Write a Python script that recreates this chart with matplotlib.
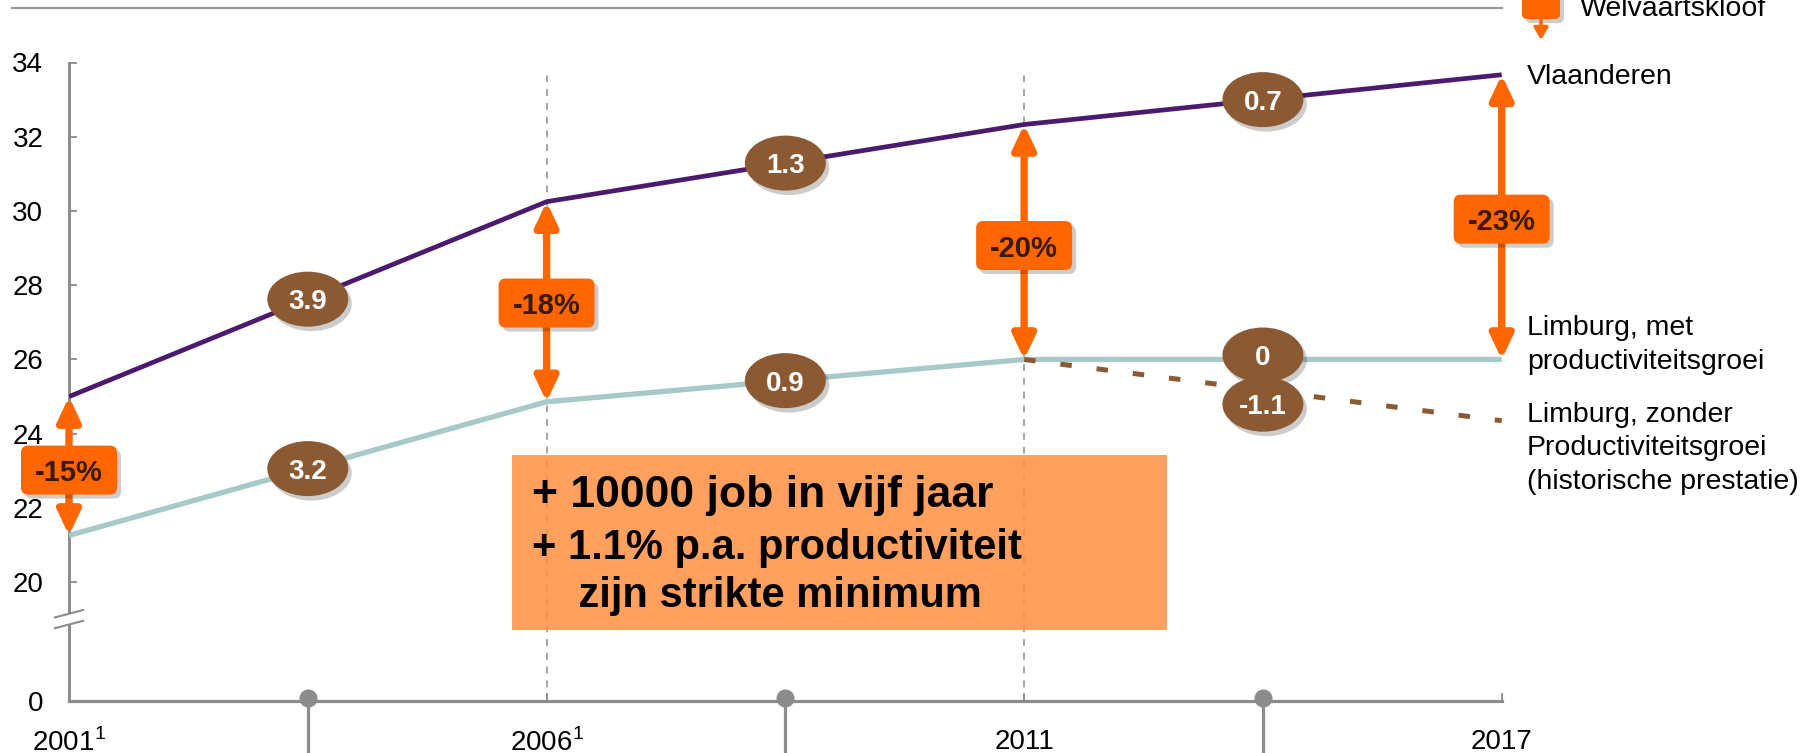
import numpy as np
import matplotlib
matplotlib.use("Agg")
import matplotlib.pyplot as plt
from matplotlib import patches, transforms
from matplotlib.lines import Line2D

plt.rcParams['font.family'] = ['Liberation Sans', 'DejaVu Sans']
plt.rcParams['mathtext.fontset'] = 'custom'
plt.rcParams['mathtext.rm'] = 'Liberation Sans'

# data
years = ['2001$^1$', '2006$^1$', '2011', '2017']
vlaanderen = [25.0, 30.25, 32.33, 33.67]
limburg_met = [21.26, 24.86, 26.0, 26.0]
limburg_zonder = [26.0, 24.35]          # 2011 -> 2017, geen productiviteitsgroei
groei_vl = ['3.9', '1.3', '0.7']
groei_met = ['3.2', '0.9', '0']
groei_zonder = ['-1.1']
kloof = ['-15%', '-18%', '-20%', '-23%']
kloof_y = [23.02, 27.52, 29.07, 29.78]
ytick_vals = [20, 22, 24, 26, 28, 30, 32, 34]
y_zero = 16.8     # where the "0" sits below the axis break

purple = '#4B1A6E'
teal = '#A7C9C7'
brown = '#8B5A33'
orange = '#FF6600'
grey = '#8c8c8c'

xpos = np.arange(len(years))
mids = (xpos[:-1] + xpos[1:]) / 2

fig = plt.figure(figsize=(18.07, 7.53), dpi=100)
ax = fig.add_axes([69/1807, 52/753, 1432.7/1807, 638.5/753])
ax.set_xlim(0, 3)
ax.set_ylim(y_zero, 34)

for s in ['top', 'right']:
    ax.spines[s].set_visible(False)
ax.spines['left'].set_color(grey)
ax.spines['left'].set_linewidth(2.1)
ax.spines['bottom'].set_color(grey)
ax.spines['bottom'].set_linewidth(2.3)

ax.set_yticks([y_zero] + ytick_vals, ['0'] + [str(v) for v in ytick_vals])
ax.tick_params(axis='y', direction='in', length=6, width=1.3, color=grey, pad=18.5, labelsize=20)
ax.set_xticks(xpos, years)
ax.tick_params(axis='x', direction='in', length=6, width=1.3, color=grey, pad=20, labelsize=20)

# axis break
yb = [0.1367, 0.1198]
dx, dy = 0.0098, 0.0058
ax.add_patch(patches.Polygon([(-dx, yb[0]-dy), (dx, yb[0]+dy), (dx, yb[1]+dy), (-dx, yb[1]-dy)],
                             transform=ax.transAxes, fc='white', ec='none', clip_on=False, zorder=3))
for yc in yb:
    ax.plot([-dx, dx], [yc-dy, yc+dy], transform=ax.transAxes, color=grey, lw=1.5, clip_on=False, zorder=3)

# dashed year guides
for x in xpos[1:3]:
    ax.axvline(x, ymin=0, ymax=0.98, color=grey, lw=1.1, dashes=(4.5, 4.5), zorder=1)

# timeline pins
for m in mids:
    ax.plot([m, m], [y_zero, y_zero - 2], color=grey, lw=2.3, clip_on=False, zorder=2)
ax.plot(mids, [y_zero + 0.08]*len(mids), 'o', ms=12, color=grey, clip_on=False, zorder=3)

# lines
ax.plot(xpos, vlaanderen, color=purple, lw=3.4, zorder=3, solid_capstyle='butt')
ax.plot(xpos, limburg_met, color=teal, lw=3.8, zorder=3, solid_capstyle='butt')
ax.plot(xpos[2:], limburg_zonder, color=brown, lw=3.6, dashes=(2.3, 5.0), zorder=3)

# big message box
ax.add_patch(patches.Rectangle((0.3092, 0.1112), 0.4572, 0.2741, transform=ax.transAxes,
                               fc='#FF8F42', alpha=0.85, ec='none', zorder=2))
box_lines = ['+ 10000 job in vijf jaar', '+ 1.1% p.a. productiviteit', '    zijn strikte minimum']
box_sizes = [32, 30, 30]
box_base = [0.3046, 0.2225, 0.1465]
for txt, fs, yy in zip(box_lines, box_sizes, box_base):
    ax.text(0.3232, yy, txt, transform=ax.transAxes, ha='left', va='baseline',
            fontsize=fs, fontweight='bold', zorder=3)


def at(x, y):
    return fig.dpi_scale_trans + transforms.ScaledTranslation(x, y, ax.transData)


zo = [6]


def bubble(x, y, s):
    tr = at(x, y)
    z = zo[0]
    ax.add_patch(patches.Ellipse((0.035, -0.045), 0.81, 0.55, transform=tr, fc='black', alpha=0.2,
                                 ec='none', zorder=z, clip_on=False))
    ax.add_patch(patches.Ellipse((0, 0), 0.81, 0.55, transform=tr, fc=brown, ec='none',
                                 zorder=z + 0.1, clip_on=False))
    ax.text(x, y, s, ha='center', va='center_baseline', color='white', fontsize=20,
            fontweight='bold', zorder=z + 0.2)
    zo[0] += 1


def kloofbox(x, y, s):
    tr = at(x, y)
    w, h = 0.96, 0.49
    ax.add_patch(patches.FancyBboxPatch((-w/2 + 0.04, -h/2 - 0.04), w, h, boxstyle='round,pad=0,rounding_size=0.07',
                                        transform=tr, fc='black', alpha=0.2, ec='none', zorder=8, clip_on=False))
    ax.add_patch(patches.FancyBboxPatch((-w/2, -h/2), w, h, boxstyle='round,pad=0,rounding_size=0.07',
                                        transform=tr, fc=orange, ec='none', zorder=8.1, clip_on=False))
    ax.text(x, y, s, ha='center', va='center_baseline', color='#3A1A00', fontsize=21,
            fontweight='bold', zorder=8.2)


# welvaartskloof arrows
for i, x in enumerate(xpos):
    ax.annotate('', xy=(x, vlaanderen[i]), xytext=(x, limburg_met[i]),
                arrowprops=dict(arrowstyle='<|-|>,head_length=0.72,head_width=0.34', mutation_scale=20,
                                lw=5.3, color=orange, shrinkA=0, shrinkB=0),
                zorder=5, annotation_clip=False)
    kloofbox(x, kloof_y[i], kloof[i])

# growth bubbles
for i, m in enumerate(mids):
    bubble(m, (vlaanderen[i] + vlaanderen[i+1]) / 2, groei_vl[i])
for i, m in enumerate(mids):
    dy_b = 0.12 if i == 2 else 0
    bubble(m, (limburg_met[i] + limburg_met[i+1]) / 2 + dy_b, groei_met[i])
bubble(mids[2], (limburg_zonder[0] + limburg_zonder[1]) / 2 - 0.38, groei_zonder[0])

# series labels
ax.text(1.0177, 0.9773, 'Vlaanderen', transform=ax.transAxes, ha='left', va='center', fontsize=20.5)
ax.text(1.0177, 0.5576, 'Limburg, met\nproductiviteitsgroei', transform=ax.transAxes,
        ha='left', va='center', fontsize=20.5, linespacing=1.37)
ax.text(1.0177, 0.3960, 'Limburg, zonder\nProductiviteitsgroei\n(historische prestatie)',
        transform=ax.transAxes, ha='left', va='center', fontsize=20.5, linespacing=1.37)

# top rule and legend
fig.add_artist(Line2D([12/1807, 1501.7/1807], [745/753, 745/753], color='#9a9a9a', lw=1.6))
fig.add_artist(patches.FancyBboxPatch((15.26, 7.30), 0.38, 0.30, boxstyle='round,pad=0,rounding_size=0.05',
                                      transform=fig.dpi_scale_trans, fc='black', alpha=0.2, ec='none'))
fig.add_artist(patches.FancyBboxPatch((15.22, 7.34), 0.38, 0.30, boxstyle='round,pad=0,rounding_size=0.05',
                                      transform=fig.dpi_scale_trans, fc=orange, ec='none'))
fig.add_artist(patches.FancyArrowPatch((15.41, 7.34), (15.41, 7.13), transform=fig.dpi_scale_trans,
                                       arrowstyle='-|>,head_length=0.6,head_width=0.35', mutation_scale=12,
                                       lw=2.5, color=orange, shrinkA=0, shrinkB=0))
fig.text(1580/1807, (753-16)/753, 'Welvaartskloof', fontsize=20.5, va='baseline', ha='left')

fig.savefig('out.png', dpi=100)
